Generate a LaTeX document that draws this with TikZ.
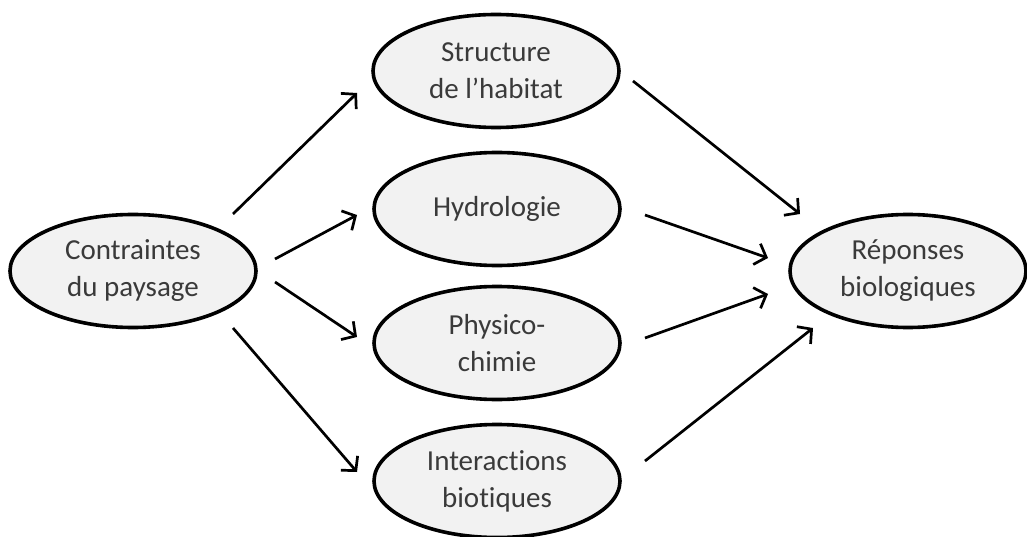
\documentclass[tikz,border=0pt]{standalone}
\usepackage{fontspec}
\setmainfont[Ligatures=NoCommon]{Carlito}
\usetikzlibrary{shapes.geometric,arrows.meta}
\definecolor{bubble}{HTML}{F2F2F2}
\definecolor{ink}{HTML}{3A3A3A}
\tikzset{
  bubble/.style={ellipse, draw=black, line width=3.6pt, fill=bubble,
    minimum width=246pt, minimum height=113pt, inner sep=0pt,
    align=center, text=ink, font=\fontsize{29pt}{37pt}\selectfont},
  link/.style={line width=2.7pt, draw=black,
    -{Straight Barb[length=10pt,width=22pt,line width=2.7pt]}}
}
\begin{document}
\begin{tikzpicture}[x=1pt,y=-1pt]
\useasboundingbox (0,0) rectangle (1027,537);
% landscape constraints on the left, responses on the right
\node[bubble] (L) at (133,271) {Contraintes\\du paysage};
\node[bubble, minimum width=236pt] (R) at (908,271) {Réponses\\biologiques};
% intermediate factors
\node[bubble] (S) at (496,71)  {Structure\\de l’habitat};
\node[bubble] (H) at (497,209) {Hydrologie};
\node[bubble] (P) at (497,343) {Physico-\\chimie};
\node[bubble] (I) at (497,481) {Interactions\\biotiques};
% constraints -> factors
\draw[link] ([shift={(100,-57)}]L.center) -- ([shift={(-139,22)}]S.center);
\draw[link] ([shift={(142,-12)}]L.center) -- ([shift={(-140,6)}]H.center);
\draw[link] ([shift={(142,11)}]L.center)  -- ([shift={(-140,-6)}]P.center);
\draw[link] ([shift={(100,57)}]L.center)  -- ([shift={(-140,-9)}]I.center);
% factors -> responses
\draw[link] ([shift={(137,10)}]S.center)  -- ([shift={(-108,-57)}]R.center);
\draw[link] ([shift={(148,6)}]H.center)   -- ([shift={(-140,-13)}]R.center);
\draw[link] ([shift={(148,-5)}]P.center)  -- ([shift={(-140,23)}]R.center);
\draw[link] ([shift={(148,-20)}]I.center) -- ([shift={(-95,57)}]R.center);
\end{tikzpicture}
\end{document}
